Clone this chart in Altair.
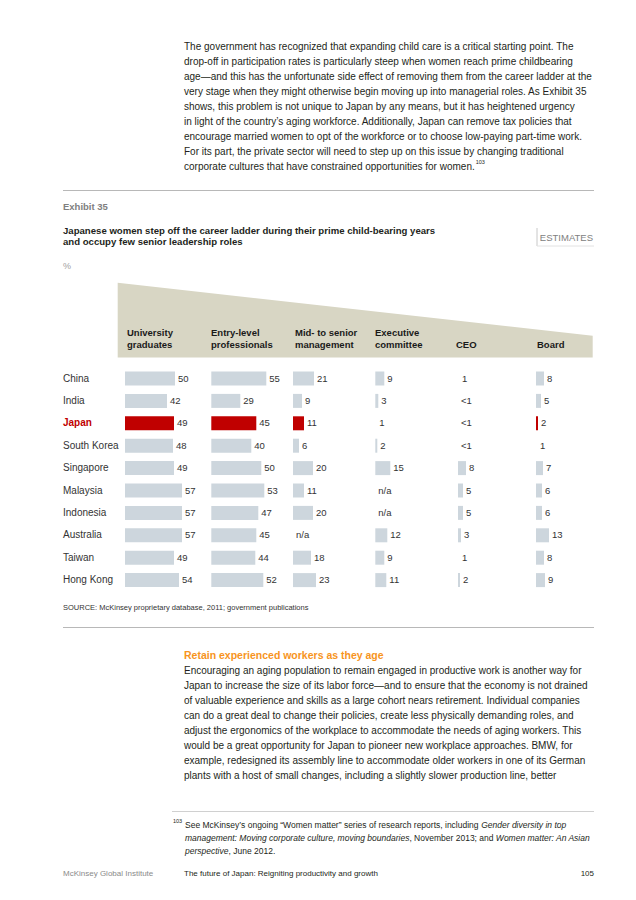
import altair as alt
import pandas as pd

# ---------------- data ----------------
countries = ["China", "India", "Japan", "South Korea", "Singapore", "Malaysia",
             "Indonesia", "Australia", "Taiwan", "Hong Kong"]
stage_labels = [["University", "graduates"], ["Entry-level", "professionals"],
                ["Mid- to senior", "management"], ["Executive", "committee"],
                ["CEO"], ["Board"]]
university = ["50", "42", "49", "48", "49", "57", "57", "57", "49", "54"]
entry = ["55", "29", "45", "40", "50", "53", "47", "45", "44", "52"]
mid = ["21", "9", "11", "6", "20", "11", "20", "n/a", "18", "23"]
executive = ["9", "3", "1", "2", "15", "n/a", "n/a", "12", "9", "11"]
ceo = ["1", "<1", "<1", "<1", "8", "5", "5", "3", "1", "2"]
board = ["8", "5", "2", "1", "7", "6", "6", "13", "8", "9"]
highlight = "Japan"

intro = [
    "The government has recognized that expanding child care is a critical starting point. The",
    "drop-off in participation rates is particularly steep when women reach prime childbearing",
    "age\u2014and this has the unfortunate side effect of removing them from the career ladder at the",
    "very stage when they might otherwise begin moving up into managerial roles. As Exhibit 35",
    "shows, this problem is not unique to Japan by any means, but it has heightened urgency",
    "in light of the country\u2019s aging workforce. Additionally, Japan can remove tax policies that",
    "encourage married women to opt of the workforce or to choose low-paying part-time work.",
    "For its part, the private sector will need to step up on this issue by changing traditional",
    "corporate cultures that have constrained opportunities for women.",
]
exhibit_no = "Exhibit 35"
title = ["Japanese women step off the career ladder during their prime child-bearing years",
         "and occupy few senior leadership roles"]
unit = "%"
tag = "ESTIMATES"
source = "SOURCE: McKinsey proprietary database, 2011; government publications"
heading2 = "Retain experienced workers as they age"
body2 = [
    "Encouraging an aging population to remain engaged in productive work is another way for",
    "Japan to increase the size of its labor force\u2014and to ensure that the economy is not drained",
    "of valuable experience and skills as a large cohort nears retirement. Individual companies",
    "can do a great deal to change their policies, create less physically demanding roles, and",
    "adjust the ergonomics of the workplace to accommodate the needs of aging workers. This",
    "would be a great opportunity for Japan to pioneer new workplace approaches. BMW, for",
    "example, redesigned its assembly line to accommodate older workers in one of its German",
    "plants with a host of small changes, including a slightly slower production line, better",
]
footnote_no = "103"
# footnote lines as (text, italic) segments
footnote = [
    [("See McKinsey\u2019s ongoing \u201cWomen matter\u201d series of research reports, including ", False),
     ("Gender diversity in top", True)],
    [("management: Moving corporate culture, moving boundaries", True),
     (", November 2013; and ", False),
     ("Women matter: An Asian", True)],
    [("perspective", True), (", June 2012.", False)],
]
footer_left = "McKinsey Global Institute"
footer_mid = "The future of Japan: Reigniting productivity and growth"
page_no = "105"

# ---------------- styling / layout ----------------
FONT = "Liberation Sans"
TXT = "#231f20"
GRAY_TXT = "#808080"
BAR = "#cdd6dd"
RED = "#c00000"
BEIGE = "#d8d6c4"
RULE = "#b8b8b8"
O = 8  # page margin

# Arial / Liberation Sans advance widths (per 1000 em), used to chain text runs
_W = {" ": 278, ",": 278, ".": 278, ":": 278, ";": 278, "-": 333, "\u2019": 222,
      "\u201c": 333, "\u201d": 333, "0": 556, "1": 556, "2": 556, "3": 556, "4": 556,
      "5": 556, "6": 556, "7": 556, "8": 556, "9": 556,
      "A": 667, "B": 667, "C": 722, "D": 722, "E": 667, "F": 611, "G": 778, "H": 722,
      "I": 278, "J": 500, "K": 667, "L": 556, "M": 833, "N": 722, "O": 778, "P": 667,
      "Q": 778, "R": 722, "S": 667, "T": 611, "U": 722, "V": 667, "W": 944, "X": 667,
      "Y": 667, "Z": 611, "a": 556, "b": 556, "c": 500, "d": 556, "e": 556, "f": 278,
      "g": 556, "h": 556, "i": 222, "j": 222, "k": 500, "l": 222, "m": 833, "n": 556,
      "o": 556, "p": 556, "q": 556, "r": 333, "s": 500, "t": 278, "u": 556, "v": 500,
      "w": 722, "x": 500, "y": 500, "z": 500}


def text_width(s, size):
    return sum(_W.get(ch, 556) for ch in s) * size / 1000.0


def px(v):
    return v - O


dummy = pd.DataFrame({"k": [0]})


def text(value, x, y, size=10, color=TXT, weight="normal", style="normal",
         align="left", baseline="alphabetic", lh=15):
    return alt.Chart(dummy).mark_text(
        align=align, baseline=baseline, font=FONT, fontSize=size, color=color,
        fontWeight=weight, fontStyle=style, lineHeight=lh
    ).encode(x=alt.value(px(x)), y=alt.value(px(y)), text=alt.value(value))


def hrule(x1, x2, y, color=RULE):
    return alt.Chart(dummy).mark_rule(color=color, strokeWidth=1).encode(
        x=alt.value(px(x1)), x2=alt.value(px(x2)), y=alt.value(px(y)))


def vrule(x, y1, y2, color=RULE):
    return alt.Chart(dummy).mark_rule(color=color, strokeWidth=1).encode(
        x=alt.value(px(x)), y=alt.value(px(y1)), y2=alt.value(px(y2)))


layers = []

# beige funnel band (drawn first, behind everything)
band = pd.DataFrame({"x": [117.7, 592.7], "top": [282.7, 335.7], "bottom": [357.5, 357.5]})
page_x = alt.Scale(domain=[O, 620 + O], range=[0, 620])
page_y = alt.Scale(domain=[O, 884 + O], range=[0, 884])
layers.append(
    alt.Chart(band).mark_area(color=BEIGE).encode(
        x=alt.X("x:Q", scale=page_x, axis=None),
        y=alt.Y("top:Q", scale=page_y, axis=None),
        y2="bottom:Q",
    )
)

# intro paragraph
layers.append(text(intro, 184, 50))
layers.append(text(footnote_no, 184 + text_width(intro[-1], 10) + 1, 164, size=5.5))
layers.append(hrule(63, 594, 190.5))

# exhibit header
layers.append(text(exhibit_no, 63, 209.5, size=9.5, color=GRAY_TXT, weight="bold"))
layers.append(text(title, 63, 233.5, size=9.6, weight="bold", lh=11.5))
layers.append(text(tag, 593, 240.5, size=9.5, color=GRAY_TXT, align="right"))
layers.append(vrule(537, 228, 246, color="#c8c8c8"))
layers.append(hrule(537, 594, 246, color="#e2e2e2"))
layers.append(text(unit, 63, 268.5, size=9, color="#a0a0a0"))

col_x = [125, 211.3, 293, 375.3, 458, 536]
head_x = [127, 211, 295, 375, 456, 537]
for lab, hx in zip(stage_labels, head_x):
    y0 = 336 if len(lab) == 2 else 347.5
    layers.append(text(lab, hx, y0, size=9.5, weight="bold", lh=11.5, color="#1a1a1a"))

# country labels
cdf = pd.DataFrame({"country": countries, "hl": [c == highlight for c in countries]})
yscale = alt.Scale(type="band", domain=countries, range=[px(371.5), px(587.1)],
                   paddingInner=0.375, paddingOuter=0)
for is_hl in (False, True):
    layers.append(
        alt.Chart(cdf).transform_filter(alt.datum.hl == is_hl).mark_text(
            align="left", baseline="middle", font=FONT, fontSize=10,
            color=RED if is_hl else "#333333",
            fontWeight="bold" if is_hl else "normal",
        ).encode(
            x=alt.value(px(63)),
            y=alt.Y("country:N", scale=yscale, axis=None),
            text="country:N",
        )
    )


def num(s):
    try:
        return float(s)
    except ValueError:
        return 0.0


for vals, x0 in zip([university, entry, mid, executive, ceo, board], col_x):
    df = pd.DataFrame({
        "country": countries,
        "label": vals,
        "v": [num(s) for s in vals],
        "hl": [c == highlight for c in countries],
    })
    xs = alt.Scale(domain=[0, 100], range=[px(x0), px(x0) + 100])
    # the reference shows no visible bar for values of 1 or below
    bars = alt.Chart(df).transform_filter(alt.datum.v > 1).mark_bar().encode(
        x=alt.X("v:Q", scale=xs, axis=None),
        y=alt.Y("country:N", scale=yscale, axis=None),
        color=alt.condition(alt.datum.hl, alt.value(RED), alt.value(BAR)),
    )
    labels = alt.Chart(df).mark_text(align="left", baseline="middle", dx=3, font=FONT,
                                     fontSize=9.5, color="#333333").encode(
        x=alt.X("v:Q", scale=xs, axis=None),
        y=alt.Y("country:N", scale=yscale, axis=None),
        text="label:N",
    )
    layers.append(bars)
    layers.append(labels)

# source and rule
layers.append(text(source, 63, 610, size=7.5, color="#333333"))
layers.append(hrule(63, 594, 627.5))

# second section
layers.append(text(heading2, 184, 659, size=10.5, weight="bold", color="#f7941d"))
layers.append(text(body2, 184, 674))

# footnote
FN = 8.5
layers.append(hrule(172, 594, 811.5, color="#d0d0d0"))
layers.append(text(footnote_no, 173, 823, size=5.5))
for i, segs in enumerate(footnote):
    xcur = 185
    ybase = 827.5 + 13 * i
    for s, ital in segs:
        layers.append(text(s, xcur, ybase, size=FN, style="italic" if ital else "normal"))
        xcur += text_width(s, FN)

# page footer
layers.append(text(footer_left, 63, 876, size=8, color="#8a8a8a"))
layers.append(text(footer_mid, 184, 876, size=8))
layers.append(text(page_no, 594, 876, size=8, align="right"))

chart = alt.layer(*layers).resolve_scale(
    x="independent", y="independent", color="independent"
).properties(
    width=620, height=884, padding=0,
    autosize=alt.AutoSizeParams(type="none"),
    background="white",
).configure_view(stroke=None)

chart.save("out.html", embed_options={"renderer": "svg", "actions": False})
